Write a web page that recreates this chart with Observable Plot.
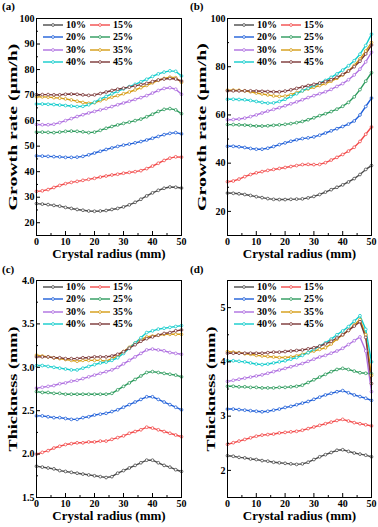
<!DOCTYPE html>
<html><head><meta charset="utf-8">
<script src="https://cdn.jsdelivr.net/npm/d3@7"></script>
<script src="https://cdn.jsdelivr.net/npm/@observablehq/plot@0.6"></script>
<style>
body{margin:0;background:#fff;}
#fig{position:relative;width:378px;height:527px;overflow:hidden;background:#fff;font-family:"Liberation Serif","Times New Roman",serif;font-weight:bold;color:#000;}
.panel{position:absolute;}
.tag{position:absolute;font-size:11px;line-height:11px;}
.leg{position:absolute;font-size:10px;line-height:10px;height:10px;display:flex;align-items:center;white-space:nowrap;}
.leg svg{margin-right:3px;}
</style></head><body><div id="fig"></div>
<script>
// Crystal radius (mm)
const xs = [0,2,4,6,8,10,12,14,16,18,20,22,24,26,28,30,32,34,36,38,40,42,44,46,48,50];
const seriesNames = ["10%","15%","20%","25%","30%","35%","40%","45%"];
const seriesColors = ["#4a4a4a","#f24b4b","#1f5fd8","#2c9a5c","#ae6fe0","#d49b12","#12cccc","#7a3535"];

// (a) Growth rate (μm/h)
const a10 = [27.5,27.3,27.1,26.8,26.5,26.0,25.6,25.2,24.9,24.6,24.5,24.6,24.8,25.2,25.6,26.2,27.0,28.0,29.2,30.5,31.7,32.7,33.5,34.0,33.9,33.6];
const a15 = [32.3,32.5,33.0,33.8,34.6,35.3,35.8,36.2,36.6,37.0,37.4,37.9,38.3,38.7,39.0,39.4,39.7,40.0,40.4,41.2,42.2,43.3,44.4,45.3,45.8,45.7];
const a20 = [46.2,46.1,46.0,45.9,45.8,45.6,45.6,45.7,46.0,46.6,47.3,48.0,48.7,49.3,49.9,50.4,50.8,51.3,51.8,52.4,53.1,53.8,54.5,55.0,55.3,54.8];
const a25 = [55.5,55.5,55.4,55.3,55.5,55.8,55.9,55.8,55.6,55.3,55.5,56.2,57.0,57.7,58.3,58.9,59.4,60.0,60.6,61.5,62.5,63.6,64.4,64.7,64.2,62.7];
const a30 = [58.5,58.4,58.4,58.6,59.2,60.0,60.8,61.6,62.3,63.0,63.6,64.2,64.8,65.5,66.2,66.9,67.6,68.3,69.0,69.8,70.8,71.8,72.6,72.9,72.3,70.3];
const a35 = [69.3,69.3,69.2,69.0,68.8,68.5,68.1,67.6,67.1,66.8,67.0,67.8,68.5,69.2,69.8,70.5,71.2,72.0,72.9,73.8,74.8,75.8,76.5,77.0,76.8,75.0];
const a40 = [66.5,66.5,66.4,66.3,66.1,65.9,65.7,65.5,65.6,66.2,67.2,68.4,69.5,70.5,71.5,72.4,73.3,74.2,75.2,76.2,77.3,78.3,79.0,79.5,79.3,77.5];
const a45 = [70.2,70.2,70.2,70.1,70.1,70.3,70.4,70.3,70.1,69.9,70.1,70.6,71.2,71.8,72.3,72.7,73.1,73.6,74.1,74.6,75.3,75.9,76.3,76.5,76.3,75.5];

// (b) Growth rate (μm/h)
const b10 = [27.6,27.5,27.3,27.0,26.6,26.1,25.7,25.3,25.0,24.9,24.9,25.0,25.1,25.2,25.6,26.2,27.0,28.0,29.0,30.0,31.0,32.2,33.6,35.3,37.4,39.0];
const b15 = [32.3,32.6,33.4,34.4,35.3,36.0,36.5,37.0,37.4,37.8,38.2,38.6,39.0,39.4,39.5,39.4,39.5,40.2,41.3,42.4,43.6,45.0,46.6,49.0,52.0,55.0];
const b20 = [47.0,47.0,46.8,46.5,46.1,45.8,45.8,46.2,46.9,47.7,48.4,49.1,49.7,50.2,50.5,50.9,51.6,52.5,53.4,54.3,55.2,56.2,57.5,60.0,63.5,67.0];
const b25 = [56.0,56.0,55.9,55.8,55.6,55.4,55.4,55.5,55.7,55.9,56.1,56.4,56.8,57.3,58.0,58.8,59.7,60.5,61.4,62.4,63.6,65.2,67.5,70.5,74.0,77.5];
const b30 = [58.0,58.1,58.3,58.7,59.3,60.0,60.8,61.6,62.3,63.0,63.8,64.6,65.4,66.3,67.2,68.0,68.8,69.6,70.6,71.8,73.0,74.6,76.6,79.0,82.0,86.0];
const b35 = [70.3,70.3,70.2,70.0,69.6,69.1,68.7,68.3,67.9,67.7,67.8,68.4,69.2,70.0,70.8,71.5,72.2,73.0,74.0,75.2,76.6,78.3,80.5,83.2,86.5,90.0];
const b40 = [66.5,66.5,66.4,66.3,66.0,65.6,65.2,64.9,65.0,65.6,66.5,67.6,68.8,70.0,71.1,72.2,73.2,74.3,75.6,77.0,78.6,80.4,82.5,85.2,88.8,93.5];
const b45 = [70.0,70.0,70.0,70.0,70.0,69.9,69.8,69.7,69.6,69.6,69.9,70.4,71.0,71.6,72.2,72.7,73.2,73.8,74.6,75.6,76.8,78.2,80.0,82.3,85.3,89.0];

// (c) Thickness (mm)
const c10 = [1.86,1.85,1.84,1.83,1.81,1.80,1.79,1.78,1.77,1.76,1.75,1.74,1.73,1.74,1.78,1.81,1.84,1.87,1.90,1.93,1.93,1.90,1.87,1.85,1.82,1.80];
const c15 = [2.00,2.02,2.04,2.07,2.09,2.11,2.12,2.13,2.13,2.14,2.14,2.15,2.15,2.17,2.19,2.21,2.24,2.26,2.28,2.31,2.30,2.28,2.26,2.24,2.22,2.20];
const c20 = [2.44,2.44,2.43,2.42,2.42,2.41,2.40,2.40,2.42,2.43,2.45,2.46,2.47,2.49,2.51,2.54,2.57,2.60,2.63,2.66,2.66,2.63,2.60,2.57,2.54,2.51];
const c25 = [2.72,2.71,2.71,2.70,2.70,2.69,2.69,2.69,2.69,2.69,2.69,2.69,2.69,2.70,2.74,2.78,2.82,2.86,2.90,2.94,2.95,2.94,2.93,2.92,2.91,2.89];
const c30 = [2.76,2.77,2.78,2.79,2.81,2.82,2.84,2.85,2.87,2.89,2.91,2.93,2.95,2.97,3.00,3.04,3.08,3.12,3.16,3.20,3.21,3.20,3.19,3.17,3.16,3.15];
const c35 = [3.14,3.13,3.12,3.11,3.10,3.09,3.08,3.07,3.08,3.08,3.08,3.08,3.07,3.10,3.13,3.18,3.23,3.28,3.32,3.35,3.36,3.37,3.38,3.38,3.38,3.38];
const c40 = [3.02,3.02,3.01,3.00,2.99,2.98,2.97,2.97,2.99,3.01,3.03,3.05,3.06,3.08,3.11,3.16,3.22,3.28,3.34,3.40,3.42,3.44,3.45,3.46,3.47,3.48];
const c45 = [3.12,3.12,3.12,3.11,3.11,3.10,3.10,3.10,3.11,3.11,3.12,3.12,3.12,3.13,3.15,3.18,3.22,3.26,3.30,3.33,3.35,3.37,3.39,3.40,3.42,3.43];

// (d) Thickness (mm)
const d10 = [2.27,2.26,2.24,2.23,2.21,2.20,2.18,2.17,2.15,2.14,2.13,2.12,2.11,2.12,2.15,2.20,2.25,2.29,2.33,2.37,2.38,2.35,2.32,2.30,2.28,2.25];
const d15 = [2.48,2.51,2.54,2.57,2.60,2.63,2.65,2.66,2.67,2.69,2.70,2.71,2.72,2.74,2.77,2.80,2.83,2.86,2.89,2.92,2.94,2.91,2.88,2.86,2.84,2.82];
const d20 = [3.13,3.13,3.12,3.11,3.10,3.09,3.08,3.09,3.11,3.13,3.16,3.18,3.21,3.24,3.27,3.31,3.35,3.39,3.42,3.45,3.47,3.43,3.39,3.36,3.33,3.29];
const d25 = [3.55,3.55,3.54,3.54,3.53,3.53,3.52,3.52,3.52,3.53,3.53,3.54,3.55,3.57,3.62,3.67,3.72,3.77,3.82,3.86,3.88,3.86,3.83,3.80,3.79,3.78];
const d30 = [3.64,3.66,3.68,3.70,3.72,3.74,3.76,3.79,3.82,3.85,3.88,3.91,3.94,3.97,4.01,4.05,4.09,4.12,4.16,4.20,4.25,4.32,4.39,4.46,4.20,3.45];
const d35 = [4.19,4.18,4.17,4.15,4.14,4.12,4.11,4.10,4.09,4.08,4.08,4.09,4.11,4.14,4.17,4.20,4.23,4.26,4.33,4.42,4.50,4.58,4.68,4.78,4.50,3.75];
const d40 = [4.02,4.02,4.01,4.00,3.98,3.96,3.95,3.96,3.98,4.00,4.02,4.05,4.08,4.12,4.17,4.23,4.29,4.35,4.42,4.50,4.57,4.65,4.75,4.85,4.60,4.00];
const d45 = [4.16,4.16,4.16,4.16,4.16,4.16,4.16,4.17,4.18,4.18,4.19,4.20,4.21,4.22,4.24,4.26,4.29,4.33,4.38,4.44,4.50,4.58,4.66,4.74,4.45,3.60];

// Tick labels
const xTicks = [0,10,20,30,40,50];
const xMinor = [5,15,25,35,45];
const yTicksA = [20,30,40,50,60,70,80,90,100];
const yMinorA = [15,25,35,45,55,65,75,85,95];
const yTicksB = [20,40,60,80,100];
const yMinorB = [10,30,50,70,90];
const yTicksC = [1.5,2.0,2.5,3.0,3.5,4.0];
const yMinorC = [1.75,2.25,2.75,3.25,3.75];
const yTicksD = [2,3,4,5];
const yMinorD = [1.5,2.5,3.5,4.5,5.5];

const xLabel = "Crystal radius (mm)";
const rateLabel = "Growth rate (μm/h)";
const thickLabel = "Thickness (mm)";

function rows(arrays) {
  return arrays.flatMap((vals, i) => vals.map((v, j) => ({x: xs[j], y: v, s: seriesNames[i]})));
}

const panels = [
  {tag:"(a)", left:0, top:0, width:188, height:263, mL:36, mR:7, mT:18, mB:28, xdy:22.5, xpad:2, yDomain:[15,100], yTicks:yTicksA, yMinor:yMinorA, fmt:d3.format("d"), yLabel:rateLabel, yLabelLen:167, yLabelX:12, data:rows([a10,a15,a20,a25,a30,a35,a40,a45])},
  {tag:"(b)", left:188, top:0, width:190, height:263, mL:39, mR:7, mT:18, mB:28, xdy:22.5, xpad:2, yDomain:[10,100], yTicks:yTicksB, yMinor:yMinorB, fmt:d3.format("d"), yLabel:rateLabel, yLabelLen:168, yLabelX:13, data:rows([b10,b15,b20,b25,b30,b35,b40,b45])},
  {tag:"(c)", left:0, top:263, width:188, height:264, mL:36, mR:7, mT:17, mB:30, xdy:22.5, xpad:2, yDomain:[1.5,4.0], yTicks:yTicksC, yMinor:yMinorC, fmt:d3.format(".1f"), yLabel:thickLabel, yLabelLen:125, yLabelX:12, data:rows([c10,c15,c20,c25,c30,c35,c40,c45])},
  {tag:"(d)", left:188, top:263, width:190, height:264, mL:39, mR:7, mT:17, mB:30, xdy:22.5, xpad:2, yDomain:[1.5,5.5], yTicks:yTicksD, yMinor:yMinorD, fmt:d3.format("d"), yLabel:thickLabel, yLabelLen:125, yLabelX:22, data:rows([d10,d15,d20,d25,d30,d35,d40,d45])}
];

const fig = document.getElementById("fig");

for (const p of panels) {
  const iw = p.width - p.mL - p.mR;
  const ih = p.height - p.mT - p.mB;
  const chart = Plot.plot({
    width: p.width, height: p.height,
    marginLeft: p.mL, marginRight: p.mR, marginTop: p.mT, marginBottom: p.mB,
    style: {fontFamily: '"Liberation Serif","Times New Roman",serif', fontWeight: "bold", fontSize: "10px", background: "white", color: "black", overflow: "visible"},
    x: {domain: [0, 50]},
    y: {domain: p.yDomain},
    color: {domain: seriesNames, range: seriesColors},
    marks: [
      Plot.line(p.data, {x: "x", y: "y", z: "s", stroke: "s", strokeWidth: 1.4, curve: "linear"}),
      Plot.dot(p.data, {x: "x", y: "y", stroke: "s", fill: "white", r: 1.4, strokeWidth: 0.8}),
      Plot.frame({stroke: "black", strokeWidth: 1}),
      Plot.tickY(p.yTicks, {y: d => d, insetRight: iw - 4, stroke: "black"}),
      Plot.tickY(p.yMinor, {y: d => d, insetRight: iw - 2, stroke: "black"}),
      Plot.tickX(xTicks, {x: d => d, insetTop: ih - 4, stroke: "black"}),
      Plot.tickX(xMinor, {x: d => d, insetTop: ih - 2, stroke: "black"}),
      Plot.axisX({ticks: xTicks, tickSize: 0, tickPadding: p.xpad, label: null, fontSize: 10}),
      Plot.axisY({ticks: p.yTicks, tickSize: 0, tickPadding: 2, tickFormat: p.fmt, label: null, fontSize: 10}),
      Plot.text([xLabel], {text: d => d, frameAnchor: "bottom", textAnchor: "middle", dy: p.xdy, fontSize: 13, fontWeight: "bold"}),
      Plot.text([p.yLabel], {text: d => d, frameAnchor: "left", textAnchor: "middle", dx: p.yLabelX - p.mL, rotate: -90, fontSize: 13, fontWeight: "bold"})
    ]
  });
  const holder = document.createElement("div");
  holder.className = "panel";
  holder.style.left = p.left + "px";
  holder.style.top = p.top + "px";
  holder.appendChild(chart);
  fig.appendChild(holder);

  // stretch the vertical axis title along its own direction, as in the reference
  d3.select(chart).selectAll("text").filter(function() { return this.textContent === p.yLabel; })
    .each(function() {
      const natural = this.getComputedTextLength();
      if (natural > 0) {
        const s = p.yLabelLen / natural;
        const t = this.getAttribute("transform") || "";
        this.setAttribute("transform", t + ` scale(${s.toFixed(3)},1)`);
      }
    });

  const tag = document.createElement("div");
  tag.className = "tag";
  tag.textContent = p.tag;
  tag.style.left = (p.left + 2) + "px";
  tag.style.top = (p.top + 1) + "px";
  fig.appendChild(tag);

  seriesNames.forEach((name, i) => {
    const col = i % 2, row = Math.floor(i / 2);
    const item = document.createElement("div");
    item.className = "leg";
    item.style.left = (p.left + p.mL + 7 + col * 47) + "px";
    item.style.top = (p.top + p.mT + 7 + row * 12.4 - 5) + "px";
    const c = seriesColors[i];
    item.innerHTML = `<svg width="20" height="8"><line x1="0" x2="20" y1="4" y2="4" stroke="${c}" stroke-width="1.4"/><circle cx="10" cy="4" r="1.4" fill="white" stroke="${c}" stroke-width="0.8"/></svg><span>${name}</span>`;
    fig.appendChild(item);
  });
}
</script></body></html>
